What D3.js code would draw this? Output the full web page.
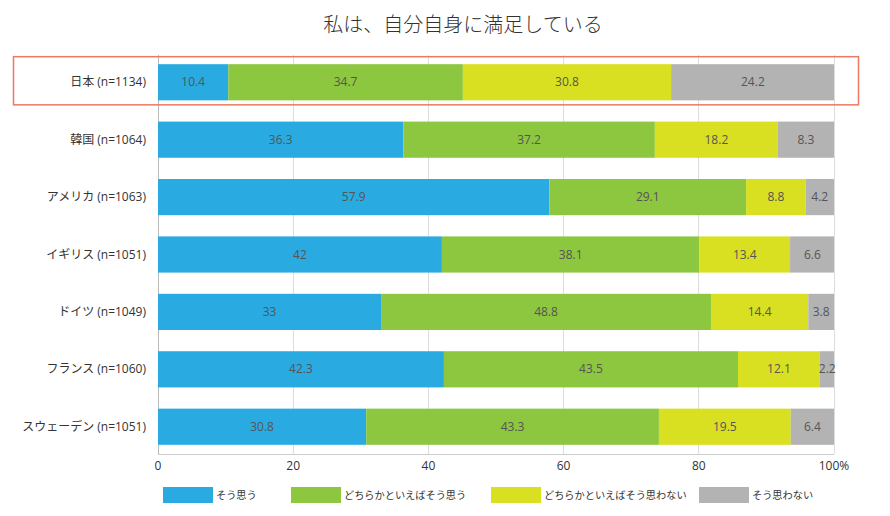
<!DOCTYPE html>
<html><head><meta charset="utf-8">
<script src="https://cdn.jsdelivr.net/npm/d3@7"></script>
<style>body{margin:0;background:#fff}svg{display:block;font-family:"Open Sans","Noto Sans CJK JP",sans-serif}</style>
</head><body><svg id="c" width="890" height="516"></svg>
<script>
const categories = ["日本 (n=1134)","韓国 (n=1064)","アメリカ (n=1063)","イギリス (n=1051)","ドイツ (n=1049)","フランス (n=1060)","スウェーデン (n=1051)"];
const seriesNames = ["そう思う","どちらかといえばそう思う","どちらかといえばそう思わない","そう思わない"];
const s1 = [10.4, 36.3, 57.9, 42, 33, 42.3, 30.8];
const s2 = [34.7, 37.2, 29.1, 38.1, 48.8, 43.5, 43.3];
const s3 = [30.8, 18.2, 8.8, 13.4, 14.4, 12.1, 19.5];
const s4 = [24.2, 8.3, 4.2, 6.6, 3.8, 2.2, 6.4];
const tickValues = [0,20,40,60,80,100];
const tickLabels = ["0","20","40","60","80","100%"];
const colors = ["#29abe2","#8dc63f","#d9e021","#b3b3b3"];
const title = "私は、自分自身に満足している";

const svg = d3.select("#c");
const L = 158, R = 834, T = 55, B = 454;
const x = d3.scaleLinear().domain([0,100]).range([L,R]);
const y = d3.scaleBand().domain(categories).range([T,B]).paddingInner(0.37).paddingOuter(0.16);
const series = [s1,s2,s3,s4];

svg.append("text").attr("x",463).attr("y",32).attr("text-anchor","middle")
  .attr("font-size",20).attr("font-weight",300).attr("fill","#333").text(title);

// gridlines
svg.append("g").selectAll("line").data(tickValues).join("line")
  .attr("x1",d=>x(d)).attr("x2",d=>x(d)).attr("y1",T).attr("y2",B)
  .attr("stroke",d=>d===0?"#bbb":"#ddd").attr("stroke-width",1).attr("shape-rendering","crispEdges");
svg.append("line").attr("x1",L).attr("x2",R).attr("y1",B).attr("y2",B)
  .attr("stroke","#ccc").attr("shape-rendering","crispEdges");

// stacked bars
const stackData = categories.map((c,i)=>{let acc=0;return series.map((s,k)=>{const o={c,k,v:s[i],x0:acc,x1:acc+s[i]};acc+=s[i];return o;});}).flat();
svg.append("g").selectAll("rect").data(stackData).join("rect")
  .attr("x",d=>x(d.x0)).attr("width",d=>Math.max(0,x(Math.min(100,d.x1))-x(d.x0)))
  .attr("y",d=>y(d.c)).attr("height",y.bandwidth()).attr("fill",d=>colors[d.k]);
svg.append("g").selectAll("text").data(stackData).join("text")
  .attr("x",d=>(x(d.x0)+x(d.x1))/2).attr("y",d=>y(d.c)+y.bandwidth()/2+4)
  .attr("text-anchor","middle").attr("font-size",12).attr("fill","#555").text(d=>d.v);

// category labels
svg.append("g").selectAll("text").data(categories).join("text")
  .attr("x",146).attr("y",d=>y(d)+y.bandwidth()/2+4).attr("text-anchor","end")
  .attr("font-size",12).attr("fill","#333").text(d=>d);

// x tick labels
svg.append("g").selectAll("text").data(tickValues).join("text")
  .attr("x",d=>x(d)).attr("y",470).attr("text-anchor","middle")
  .attr("font-size",12).attr("fill","#333").text((d,i)=>tickLabels[i]);

// highlight box for Japan
svg.append("rect").attr("x",13.5).attr("y",y(categories[0])-7.5).attr("width",845).attr("height",y.bandwidth()+12)
  .attr("fill","none").attr("stroke","#ec7a63").attr("stroke-width",1.5);

// legend
const legX = [163,291,491,699];
const lg = svg.append("g").selectAll("g").data(seriesNames).join("g")
  .attr("transform",(d,i)=>`translate(${legX[i]},487)`);
lg.append("rect").attr("width",50).attr("height",16).attr("fill",(d,i)=>colors[i]);
lg.append("text").attr("x",53).attr("y",12).attr("font-size",10.2).attr("fill","#333").text(d=>d);
</script></body></html>
